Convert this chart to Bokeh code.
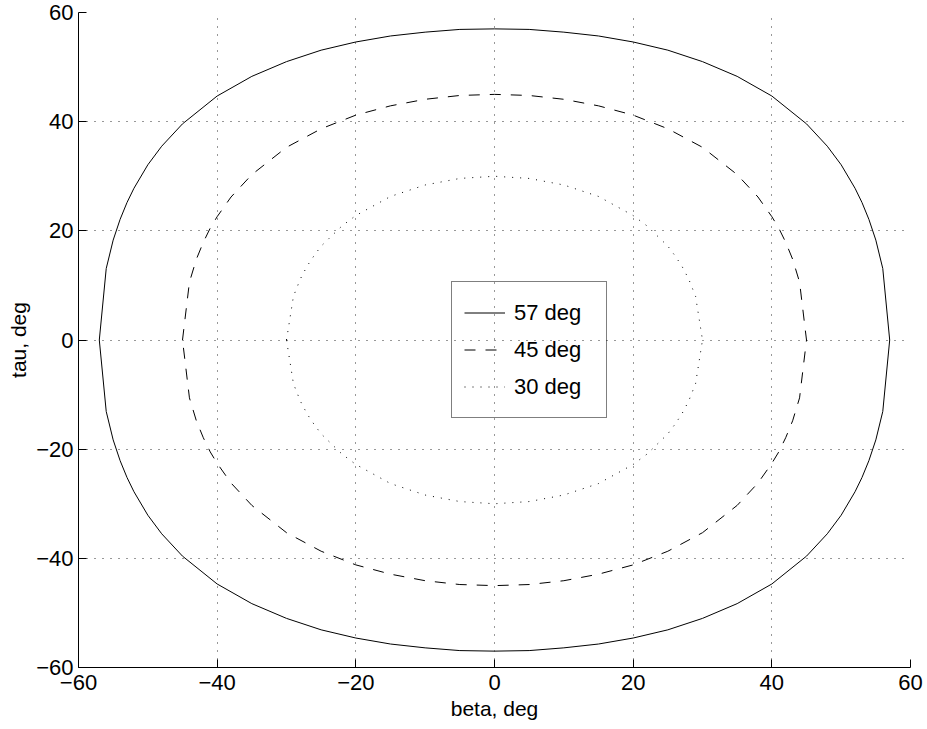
from bokeh.plotting import figure
from bokeh.models import FixedTicker, Legend, LegendItem, Range1d
from bokeh.embed import file_html
from bokeh.resources import INLINE

# ---- data ----
beta_57 = [-57, -56, -55, -54, -53, -52, -50, -48, -45, -40, -35, -30, -25, -20, -15, -10, -5, 0,
           5, 10, 15, 20, 25, 30, 35, 40, 45, 48, 50, 52, 53, 54, 55, 56, 57]
tau_57_upper = [0, 13.1, 18.3, 22.1, 25.2, 27.8, 32.1, 35.5, 39.6, 44.7, 48.3, 51.0, 53.1, 54.6, 55.7, 56.4, 56.9, 57.0,
                56.9, 56.4, 55.7, 54.6, 53.1, 51.0, 48.3, 44.7, 39.6, 35.5, 32.1, 27.8, 25.2, 22.1, 18.3, 13.1, 0]
tau_57_lower = [0, -13.1, -18.3, -22.1, -25.2, -27.8, -32.1, -35.5, -39.6, -44.7, -48.3, -51.0, -53.1, -54.6, -55.7, -56.4, -56.9, -57.0,
                -56.9, -56.4, -55.7, -54.6, -53.1, -51.0, -48.3, -44.7, -39.6, -35.5, -32.1, -27.8, -25.2, -22.1, -18.3, -13.1, 0]

beta_45 = [-45, -44, -43, -42, -41, -40, -38, -35, -30, -25, -20, -15, -10, -5, 0,
           5, 10, 15, 20, 25, 30, 35, 38, 40, 41, 42, 43, 44, 45]
tau_45_upper = [0, 10.6, 14.8, 17.9, 20.5, 22.6, 26.2, 30.3, 35.3, 38.7, 41.2, 42.9, 44.1, 44.8, 45.0,
                44.8, 44.1, 42.9, 41.2, 38.7, 35.3, 30.3, 26.2, 22.6, 20.5, 17.9, 14.8, 10.6, 0]
tau_45_lower = [0, -10.6, -14.8, -17.9, -20.5, -22.6, -26.2, -30.3, -35.3, -38.7, -41.2, -42.9, -44.1, -44.8, -45.0,
                -44.8, -44.1, -42.9, -41.2, -38.7, -35.3, -30.3, -26.2, -22.6, -20.5, -17.9, -14.8, -10.6, 0]

beta_30 = [-30, -29, -28, -27, -26, -25, -22, -20, -15, -10, -5, 0,
           5, 10, 15, 20, 22, 25, 26, 27, 28, 29, 30]
tau_30_upper = [0, 8.0, 11.2, 13.6, 15.5, 17.2, 20.9, 22.8, 26.3, 28.4, 29.6, 30.0,
                29.6, 28.4, 26.3, 22.8, 20.9, 17.2, 15.5, 13.6, 11.2, 8.0, 0]
tau_30_lower = [0, -8.0, -11.2, -13.6, -15.5, -17.2, -20.9, -22.8, -26.3, -28.4, -29.6, -30.0,
                -29.6, -28.4, -26.3, -22.8, -20.9, -17.2, -15.5, -13.6, -11.2, -8.0, 0]

series_labels = ["57 deg", "45 deg", "30 deg"]
tick_values = [-60, -40, -20, 0, 20, 40, 60]
tick_labels = ["\u221260", "\u221240", "\u221220", "0", "20", "40", "60"]

FONT = "Liberation Sans"

p = figure(width=927, height=729, output_backend="svg", toolbar_location=None,
           x_range=Range1d(-60, 60), y_range=Range1d(-60, 60),
           min_border_left=78, min_border_right=17, min_border_top=12, min_border_bottom=62,
           background_fill_color="white", border_fill_color="white")
p.outline_line_color = None

def loop(beta, upper, lower):
    return beta + beta[::-1], upper + lower[::-1]

x57, y57 = loop(beta_57, tau_57_upper, tau_57_lower)
x45, y45 = loop(beta_45, tau_45_upper, tau_45_lower)
x30, y30 = loop(beta_30, tau_30_upper, tau_30_lower)

r57 = p.line(x57, y57, line_color="black", line_width=1)
r45 = p.line(x45, y45, line_color="black", line_width=1, line_dash="11 10")
r30 = p.line(x30, y30, line_color="black", line_width=1, line_dash="1 7")

for ax in (p.xaxis[0], p.yaxis[0]):
    ax.ticker = FixedTicker(ticks=tick_values)
    ax.major_label_overrides = dict(zip(tick_values, tick_labels))
    ax.major_tick_in = 8
    ax.major_tick_out = 0
    ax.minor_tick_in = 0
    ax.minor_tick_out = 0
    ax.axis_line_color = "black"
    ax.major_tick_line_color = "black"
    ax.major_label_text_font = FONT
    ax.major_label_text_font_size = "22px"
    ax.major_label_text_color = "black"
    ax.axis_label_text_font = FONT
    ax.axis_label_text_font_size = "21px"
    ax.axis_label_text_font_style = "normal"
    ax.axis_label_text_color = "black"

p.xaxis.axis_label = "beta, deg"
p.yaxis.axis_label = "tau, deg"
p.xaxis.major_label_standoff = 7
p.yaxis.major_label_standoff = 5
p.xaxis.axis_label_standoff = 4
p.yaxis.axis_label_standoff = 3

for g in (p.xgrid[0], p.ygrid[0]):
    g.ticker = FixedTicker(ticks=tick_values)
    g.grid_line_color = "#303030"
    g.grid_line_dash = "1 7"
    g.grid_line_width = 1

legend = Legend(items=[LegendItem(label=series_labels[0], renderers=[r57]),
                       LegendItem(label=series_labels[1], renderers=[r45]),
                       LegendItem(label=series_labels[2], renderers=[r30])],
                location=(373, 249), padding=12, spacing=0,
                glyph_width=41, glyph_height=37, label_height=37, label_width=80,
                label_standoff=9, margin=0,
                border_line_color="black", border_line_width=1.5,
                background_fill_alpha=0,
                label_text_font=FONT, label_text_font_size="22px", label_text_color="black")
p.add_layout(legend)

open("out.html", "w").write(file_html(p, INLINE))
